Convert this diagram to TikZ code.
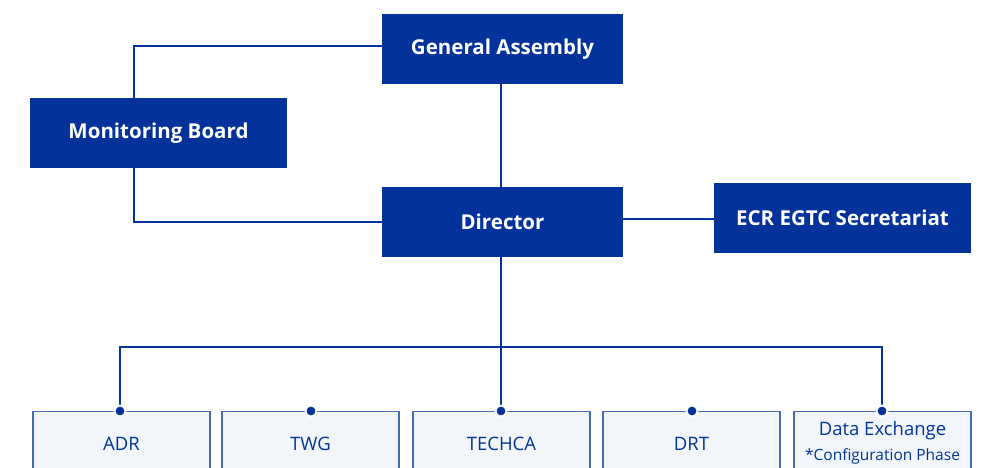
\documentclass[tikz,border=0pt]{standalone}
\usepackage{fontspec}
\setmainfont{Open Sans}
\definecolor{navy}{HTML}{03339A}
\definecolor{lightfill}{HTML}{F2F5FA}
\definecolor{lightedge}{HTML}{4A68B8}
\begin{document}
\begin{tikzpicture}[x=1pt,y=-1pt,
  topbox/.style={draw=none,fill=navy,text=white,font=\fontsize{20.5}{24}\selectfont\bfseries,minimum height=70pt,inner sep=0pt},
  subbox/.style={draw=lightedge,line width=1.2pt,fill=lightfill,minimum width=177pt,minimum height=80pt,anchor=north,inner sep=0pt},
  sublabel/.style={text=navy,font=\fontsize{18.5}{22}\selectfont,inner sep=0pt},
  conn/.style={draw=navy,line width=1.2pt},
  dot/.style={circle,fill=navy,draw=white,line width=1.8pt,minimum size=11pt,inner sep=0pt}]
\useasboundingbox (0,0) rectangle (982,468);
\clip (0,0) rectangle (982,468);
\node[topbox,minimum width=241pt] (ga) at (502.5,49) {General Assembly};
\node[topbox,minimum width=257pt] (mb) at (158.5,133) {Monitoring Board};
\node[topbox,minimum width=241pt] (dir) at (502.5,222) {Director};
\node[topbox,minimum width=257pt] (ecr) at (842.5,218) {ECR EGTC Secretariat};
\coordinate (bus) at (501,347);
\node[subbox] (adr) at (121.5,411) {};
\node[subbox] (twg) at (310.5,411) {};
\node[subbox] (tech) at (501.5,411) {};
\node[subbox] (drt) at (691.5,411) {};
\node[subbox] (dx) at (882.5,411) {};
\node[sublabel] at (121.5,444) {ADR};
\node[sublabel] at (310.5,444) {TWG};
\node[sublabel] at (501.5,444) {TECHCA};
\node[sublabel] at (691.5,444) {DRT};
\node[sublabel] at (882.5,431) {Data Exchange};
\node[sublabel,font=\fontsize{15.5}{18}\selectfont] at (882.5,456) {*Configuration Phase};
\draw[conn] (ga.west |- 0,46) -| (mb.north -| 134,0);
\draw[conn] (mb.south -| 134,0) |- (dir.west);
\draw[conn] (ga.south -| 501,0) -- (dir.north -| 501,0);
\draw[conn] (dir.east |- 0,219) -- (ecr.west |- 0,219);
\draw[conn] (dir.south -| 501,0) -- (bus);
\draw[conn] (adr.north -| 120,0) |- (bus) -| (dx.north -| 882,0);
\draw[conn] (twg.north -| 311,0) -- (twg.north -| 311,347);
\draw[conn] (tech.north -| 501,0) -- (bus);
\draw[conn] (drt.north -| 692,0) -- (drt.north -| 692,347);
\node[dot] at (adr.north -| 120,0) {};
\node[dot] at (twg.north -| 311,0) {};
\node[dot] at (tech.north -| 501,0) {};
\node[dot] at (drt.north -| 692,0) {};
\node[dot] at (dx.north -| 882,0) {};
\end{tikzpicture}
\end{document}
